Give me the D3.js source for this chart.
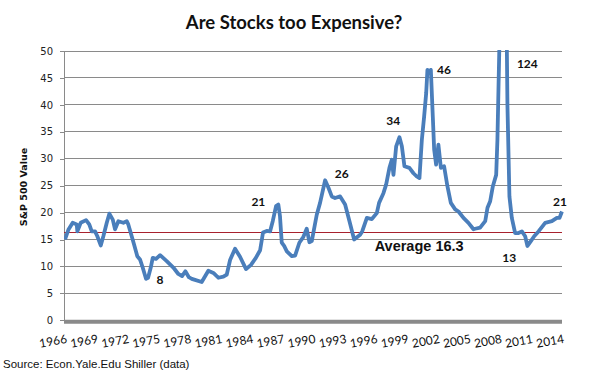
<!DOCTYPE html>
<html><head><meta charset="utf-8">
<script src="https://cdn.jsdelivr.net/npm/d3@7"></script>
<style>body{margin:0;background:#fff}svg{display:block}</style>
</head><body>
<svg id="c" width="590" height="380"></svg>
<script>
const years = [1966.10,1966.42,1966.84,1967.23,1967.29,1967.61,1968.13,1968.44,1968.68,1969.00,1969.22,1969.55,1969.80,1970.13,1970.38,1970.71,1970.93,1971.25,1971.73,1972.06,1972.21,1972.54,1972.76,1973.08,1973.34,1973.60,1973.92,1974.12,1974.38,1974.57,1974.89,1975.28,1975.92,1976.56,1977.04,1977.40,1977.72,1978.06,1978.34,1978.50,1979.30,1979.94,1980.43,1980.91,1981.39,1981.72,1982.04,1982.52,1983.00,1983.58,1984.06,1984.53,1984.94,1985.22,1985.58,1985.90,1986.16,1986.48,1986.70,1986.86,1987.03,1987.26,1987.52,1988.00,1988.32,1988.73,1989.12,1989.44,1989.70,1989.93,1990.41,1990.73,1991.22,1991.54,1991.86,1992.18,1992.67,1993.15,1993.57,1994.02,1994.60,1994.80,1995.25,1995.73,1996.21,1996.43,1996.85,1997.11,1997.43,1997.66,1997.82,1998.08,1998.40,1998.63,1998.88,1999.36,1999.75,2000.07,2000.33,2000.56,2000.78,2000.98,2001.10,2001.30,2001.43,2001.62,2001.75,2001.94,2002.16,2002.40,2002.71,2003.03,2003.36,2003.78,2004.10,2004.58,2005.06,2005.55,2005.71,2006.19,2006.68,2006.90,2007.16,2007.42,2007.74,2007.86,2007.96,2008.06,2008.13,2008.25,2008.42,2008.55,2008.68,2008.75,2008.83,2009.02,2009.25,2009.57,2009.89,2010.22,2010.54,2010.76,2011.09,2011.41,2011.83,2012.47,2013.12,2013.60,2013.86,2014.09];
const peValues = [15.0,16.8,18.1,17.8,16.5,18.1,18.6,17.8,16.5,16.5,15.6,13.9,15.6,18.1,19.8,18.7,16.9,18.4,18.1,18.4,17.8,15.6,14.1,11.9,11.3,9.8,7.7,7.9,9.8,11.6,11.4,12.1,11.0,9.8,8.6,8.2,9.1,8.0,7.7,7.6,7.1,9.2,8.8,7.9,8.1,8.5,11.2,13.3,11.8,9.5,10.3,11.6,13.0,16.3,16.6,16.5,18.4,21.2,21.5,19.3,14.4,13.8,12.8,11.9,12.0,14.4,15.5,17.0,14.5,14.7,19.6,21.8,26.0,24.6,23.0,22.7,23.0,21.5,18.4,15.0,15.9,16.5,19.0,18.8,19.9,21.8,23.6,25.2,28.3,29.8,27.0,32.3,34.0,32.3,28.6,28.3,27.3,26.7,26.4,33.5,37.8,42.2,46.5,45.9,46.5,37.8,31.7,28.9,32.6,28.3,28.6,24.9,21.8,20.6,20.2,19.0,18.1,16.9,17.0,17.2,18.4,20.9,22.1,24.9,27.0,33.5,42.8,52,75,100,124,110,78,54,39.7,23.0,19.0,16.2,16.2,16.5,15.6,13.8,14.7,15.6,16.5,18.1,18.4,19.0,19.0,20.2];
const average = 16.3;
const yTicks = [0,5,10,15,20,25,30,35,40,45,50];
const xTickYears = [1966,1969,1972,1975,1978,1981,1984,1987,1990,1993,1996,1999,2002,2005,2008,2011,2014];
const annLabels = ["8","21","26","34","46","124","13","21"];
const annYears = [1975.27,1984.77,1992.82,1997.8,2002.7,2010.75,2009.0,2013.9];
const annValues = [6.75,21.2,26.5,36.3,45.8,46.9,10.9,21.2];

const svg = d3.select("#c");
const x = d3.scaleLinear().domain([1966,2014]).range([64,561]);
const y = d3.scaleLinear().domain([0,50]).range([320.3,51]);
const L = 64, R = 562;

// gridlines
svg.append("g").selectAll("line").data(yTicks.filter(d=>d>0)).join("line")
  .attr("x1",L).attr("x2",R).attr("y1",d=>y(d)).attr("y2",d=>y(d))
  .attr("stroke","#8a8a8a").attr("stroke-width",1).attr("shape-rendering","crispEdges");

// y axis
const ya = svg.append("g").attr("transform",`translate(${L},0)`)
  .call(d3.axisLeft(y).tickValues(yTicks).tickSize(4).tickPadding(7));
ya.select(".domain").attr("stroke","#8a8a8a").attr("shape-rendering","crispEdges");
ya.selectAll(".tick line").attr("stroke","#8a8a8a").attr("shape-rendering","crispEdges");
ya.selectAll("text").attr("font-family","DejaVu Sans, Verdana, sans-serif").attr("font-size","10px").attr("fill","#222");

// x axis
const xa = svg.append("g").attr("transform",`translate(0,${y(0)+1.5})`)
  .call(d3.axisBottom(x).tickValues(xTickYears).tickFormat(d3.format("d")).tickSize(0).tickSizeOuter(0));
xa.select(".domain").attr("stroke","#8a8a8a").attr("stroke-width",4).attr("d",`M${L},0H${R}`);
xa.selectAll("text").attr("font-family","Lato, sans-serif").attr("font-size","12px").attr("fill","#111")
  .attr("text-anchor","end").attr("dy",0).attr("y",0)
  .attr("transform","translate(3,21) rotate(-10)");

// average line
svg.append("line").attr("x1",L).attr("x2",R).attr("y1",y(average)).attr("y2",y(average))
  .attr("stroke","#a8222e").attr("stroke-width",1.2);

// clip
svg.append("clipPath").attr("id","clip").append("rect").attr("x",L).attr("y",y(50)-1).attr("width",R-L+5).attr("height",y(0)-y(50)+1);

const data = years.map((t,i)=>[t,peValues[i]]);
svg.append("path").datum(data).attr("clip-path","url(#clip)")
  .attr("d",d3.line().x(d=>x(d[0])).y(d=>y(d[1])))
  .attr("fill","none").attr("stroke","#4a7ebb").attr("stroke-width",3.8).attr("stroke-linejoin","round");

// annotations
svg.append("g").selectAll("text").data(annLabels).join("text")
  .attr("x",(d,i)=>x(annYears[i])).attr("y",(d,i)=>y(annValues[i]))
  .attr("text-anchor","middle").attr("font-family","Lato, sans-serif").attr("font-weight","bold")
  .attr("font-size","12px").attr("fill","#111").text(d=>d);

svg.append("text").attr("x",x(2000.3)).attr("y",y(average)+18).attr("text-anchor","middle")
  .attr("font-family","Liberation Sans, Arial, sans-serif").attr("font-weight","bold").attr("font-size","14.5px")
  .attr("fill","#111").text("Average " + average);

// title
svg.append("text").attr("x",294).attr("y",29).attr("text-anchor","middle")
  .attr("font-family","Lato, sans-serif").attr("font-weight","bold").attr("font-size","18.5px").attr("fill","#111")
  .text("Are Stocks too Expensive?");

// y title
svg.append("text").attr("transform","translate(27,187) rotate(-90)").attr("text-anchor","middle")
  .attr("font-family","DejaVu Sans, Verdana, sans-serif").attr("font-weight","bold").attr("font-size","9.5px").attr("fill","#111")
  .text("S&P 500 Value");

// source
svg.append("text").attr("x",3).attr("y",368)
  .attr("font-family","Liberation Sans, Arial, sans-serif").attr("font-size","11.5px").attr("fill","#111")
  .text("Source: Econ.Yale.Edu Shiller (data)");
</script>
</body></html>
